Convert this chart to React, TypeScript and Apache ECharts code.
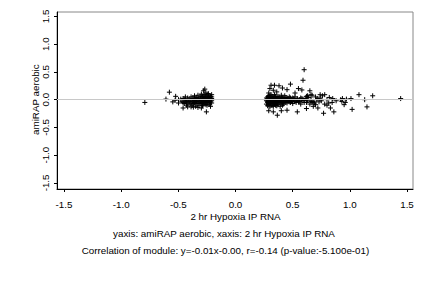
import React, { useEffect, useRef } from "react";
import * as echarts from "echarts";

const xTickValues = [-1.5, -1.0, -0.5, 0.0, 0.5, 1.0, 1.5];
const yTickValues = [-1.5, -1.0, -0.5, 0.0, 0.5, 1.0, 1.5];
const xName = "2 hr Hypoxia IP RNA";
const yName = "amiRAP aerobic";
const subtitle1 = "yaxis: amiRAP aerobic, xaxis: 2 hr Hypoxia IP RNA";
const subtitle2 = "Correlation of module: y=-0.01x-0.00, r=-0.14 (p-value:-5.100e-01)";

// left cluster
const leftCluster: number[][] = [
  [-0.795, -0.05], [-0.61, 0.01], [-0.58, 0.135], [-0.55, -0.04], [-0.525, 0.06], [-0.5, 0.0],
  [-0.53, -0.01], [-0.46, -0.15], [-0.37, -0.135], [-0.30, -0.15], [-0.256, -0.22], [-0.27, 0.19],
  [-0.28, 0.16], [-0.26, 0.12], [-0.24, 0.1],
  [-0.47, -0.03], [-0.46, 0.02], [-0.45, -0.07], [-0.44, 0.0], [-0.43, -0.1], [-0.42, 0.03],
  [-0.41, -0.04], [-0.40, 0.01], [-0.40, -0.08], [-0.39, 0.05], [-0.38, -0.02], [-0.38, -0.1],
  [-0.37, 0.02], [-0.36, -0.05], [-0.36, 0.07], [-0.35, -0.01], [-0.35, -0.12], [-0.34, 0.04],
  [-0.34, -0.07], [-0.33, 0.0], [-0.33, 0.08], [-0.32, -0.04], [-0.32, -0.1], [-0.31, 0.02],
  [-0.31, 0.06], [-0.30, -0.02], [-0.30, -0.07], [-0.30, 0.1], [-0.29, 0.03], [-0.29, -0.05],
  [-0.29, -0.11], [-0.28, 0.0], [-0.28, 0.06], [-0.28, -0.08], [-0.27, -0.03], [-0.27, 0.09],
  [-0.27, 0.03], [-0.26, -0.06], [-0.26, 0.0], [-0.26, 0.05], [-0.25, -0.02], [-0.25, -0.1],
  [-0.25, 0.08], [-0.24, 0.02], [-0.24, -0.05], [-0.24, 0.11], [-0.23, -0.01], [-0.23, 0.04],
  [-0.23, -0.08], [-0.22, 0.0], [-0.22, 0.06], [-0.22, -0.04], [-0.22, -0.12], [-0.21, 0.02],
  [-0.21, -0.06], [-0.21, 0.09], [-0.42, -0.13], [-0.48, 0.01], [-0.5, -0.06], [-0.44, 0.05],
  [-0.39, -0.13], [-0.33, -0.14],
  [-0.46, -0.05], [-0.45, 0.01], [-0.43, -0.02], [-0.42, -0.06], [-0.41, 0.0], [-0.40, -0.03],
  [-0.39, -0.06], [-0.38, 0.02], [-0.37, -0.04], [-0.36, -0.02], [-0.35, 0.02], [-0.34, -0.03],
  [-0.33, -0.06], [-0.32, 0.01], [-0.31, -0.02], [-0.31, -0.06], [-0.30, 0.03], [-0.29, -0.01],
  [-0.28, -0.03], [-0.27, 0.0], [-0.27, -0.06], [-0.26, 0.03], [-0.25, 0.01], [-0.25, -0.05],
  [-0.24, -0.02], [-0.23, 0.01], [-0.23, -0.04], [-0.22, 0.03], [-0.21, -0.02], [-0.21, 0.05],
  [-0.44, -0.04], [-0.37, -0.07], [-0.34, 0.01], [-0.29, 0.06], [-0.26, -0.09], [-0.24, 0.06],
];

// right cluster
const rightCluster: number[][] = [
  [0.60, 0.54], [0.59, 0.35], [0.48, 0.28], [0.31, 0.26], [0.34, 0.26], [0.38, 0.25], [0.41, 0.21],
  [0.65, 0.16], [0.58, 0.175], [0.52, 0.12], [0.30, 0.2], [0.33, 0.17], [0.45, 0.18], [0.55, 0.2],
  [0.36, 0.14], [0.29, 0.12],
  [0.365, -0.28], [0.29, -0.2], [0.54, -0.22], [0.45, -0.19], [0.77, -0.245], [0.86, -0.22],
  [0.83, -0.15], [0.72, -0.15], [1.15, -0.13], [1.02, -0.175], [0.95, -0.09], [0.40, -0.2],
  [0.33, -0.22], [0.62, -0.16], [0.68, -0.12],
  [1.08, 0.09], [1.2, 0.07], [1.445, 0.02], [1.13, 0.0], [1.01, 0.02], [0.935, 0.02], [0.93, -0.03],
  [0.76, 0.07], [0.78, 0.09], [0.74, 0.09], [0.815, -0.06], [0.845, -0.05], [0.96, -0.05],
  [0.66, -0.03], [0.68, -0.03], [0.92, 0.0], [0.97, 0.01], [0.88, -0.02], [0.8, 0.0], [0.7, 0.05],
  [0.72, 0.02], [0.64, 0.04], [0.62, -0.05],
  [0.27, -0.02], [0.27, 0.03], [0.27, -0.08], [0.28, 0.05], [0.28, -0.05], [0.28, 0.0], [0.28, -0.11],
  [0.29, 0.02], [0.29, -0.03], [0.29, 0.07], [0.29, -0.09], [0.30, -0.01], [0.30, 0.04], [0.30, -0.06],
  [0.30, -0.13], [0.31, 0.01], [0.31, -0.04], [0.31, 0.09], [0.31, -0.1], [0.32, -0.02], [0.32, 0.03],
  [0.32, -0.07], [0.32, 0.06], [0.33, 0.0], [0.33, -0.05], [0.33, -0.12], [0.33, 0.04], [0.34, -0.02],
  [0.34, 0.02], [0.34, -0.08], [0.35, 0.0], [0.35, -0.04], [0.35, 0.06], [0.35, -0.1], [0.36, -0.01],
  [0.36, 0.03], [0.36, -0.06], [0.37, 0.01], [0.37, -0.03], [0.37, -0.09], [0.38, 0.0], [0.38, 0.05],
  [0.38, -0.05], [0.39, -0.02], [0.39, 0.02], [0.39, -0.12], [0.40, 0.0], [0.40, -0.06], [0.40, 0.08],
  [0.41, -0.03], [0.41, 0.03], [0.42, -0.01], [0.42, -0.08], [0.43, 0.01], [0.43, -0.04], [0.44, 0.04],
  [0.44, -0.02], [0.45, -0.06], [0.45, 0.0], [0.46, 0.02], [0.46, -0.03], [0.47, -0.01], [0.47, 0.05],
  [0.48, -0.05], [0.48, 0.01], [0.49, -0.02], [0.50, 0.03], [0.50, -0.07], [0.51, 0.0], [0.52, -0.03],
  [0.52, 0.05], [0.53, -0.01], [0.54, 0.02], [0.55, -0.04], [0.56, 0.0], [0.57, 0.03], [0.57, -0.08],
  [0.58, -0.02], [0.59, 0.01], [0.60, -0.05], [0.61, 0.02], [0.62, 0.06], [0.63, 0.07], [0.65, -0.08],
  [0.66, 0.09], [0.67, 0.08], [0.69, -0.06], [0.70, -0.09], [0.71, 0.0], [0.73, -0.04], [0.74, 0.03],
  [0.75, -0.02], [0.78, -0.08], [0.80, -0.1], [0.82, 0.04], [0.85, 0.02],
  [0.27, 0.0], [0.28, -0.03], [0.28, 0.02], [0.29, -0.06], [0.29, 0.0], [0.30, 0.02], [0.30, -0.03],
  [0.31, -0.07], [0.31, -0.01], [0.32, 0.0], [0.32, -0.04], [0.33, 0.02], [0.33, -0.02], [0.34, 0.0],
  [0.34, -0.05], [0.35, 0.03], [0.35, -0.02], [0.36, 0.01], [0.36, -0.04], [0.37, -0.01], [0.37, -0.06],
  [0.38, -0.02], [0.38, 0.02], [0.39, 0.0], [0.39, -0.05], [0.40, -0.02], [0.40, 0.03], [0.41, 0.0],
  [0.41, -0.06], [0.42, 0.02], [0.42, -0.03], [0.43, -0.01], [0.44, 0.0], [0.44, -0.05], [0.45, 0.03],
  [0.46, -0.01], [0.47, -0.04], [0.48, 0.03], [0.49, 0.0], [0.50, -0.03], [0.51, 0.02], [0.53, -0.05],
  [0.54, 0.0], [0.56, -0.03], [0.58, 0.02], [0.60, -0.01], [0.63, -0.02], [0.66, 0.0], [0.67, -0.05],
  [0.30, 0.07], [0.34, 0.09], [0.37, 0.06], [0.43, 0.07], [0.32, -0.1], [0.36, -0.11], [0.41, -0.1],
];

const FONT = "'Liberation Sans', Arial, Helvetica, sans-serif";
const FS = 9.8;
const fmt = (v: number) => (Math.abs(v) < 1e-9 ? "0.0" : v.toFixed(1));

export default function App() {
  const ref = useRef<HTMLDivElement>(null);
  useEffect(() => {
    if (!ref.current) return;
    const chart = echarts.init(ref.current, undefined, { renderer: "svg" });
    const plusSymbol = "path://M0,5L10,5M5,0L5,10";
    chart.setOption({
      animation: false,
      backgroundColor: "#ffffff",
      textStyle: { fontFamily: FONT },
      grid: [
        { left: 57, top: 12, width: 356, height: 177, show: true, borderColor: "#888888", borderWidth: 1, backgroundColor: "transparent" },
        { left: 64, top: 12, width: 343, height: 177 },
        { left: 57, top: 16.4, width: 356, height: 166.5 },
      ],
      xAxis: [
        {
          gridIndex: 0, type: "value", min: -1.564, max: 1.553,
          axisLine: { show: true, onZero: false, lineStyle: { color: "#000", width: 1 } },
          axisTick: { show: false }, axisLabel: { show: false }, splitLine: { show: false },
        },
        {
          gridIndex: 1, type: "value", min: xTickValues[0], max: xTickValues[xTickValues.length - 1], interval: 0.5,
          axisLine: { show: false },
          axisTick: { show: true, length: 3, lineStyle: { color: "#000" } },
          axisLabel: { show: true, margin: 10, fontSize: FS, color: "#000", fontFamily: FONT, formatter: fmt },
          splitLine: { show: false },
          name: xName, nameLocation: "middle", nameGap: 22, nameMoveOverlap: false,
          nameTextStyle: { fontSize: FS, color: "#000", fontFamily: FONT },
        },
        { gridIndex: 2, type: "value", show: false, min: 0, max: 1 },
      ],
      yAxis: [
        {
          gridIndex: 0, type: "value", min: -1.61, max: 1.58,
          axisLine: { show: true, onZero: false, lineStyle: { color: "#000", width: 1 } },
          axisTick: { show: false }, axisLabel: { show: false }, splitLine: { show: false },
        },
        { gridIndex: 1, type: "value", show: false, min: 0, max: 1 },
        {
          gridIndex: 2, type: "value", min: yTickValues[0], max: yTickValues[yTickValues.length - 1], interval: 0.5,
          axisLine: { show: false },
          axisTick: { show: true, length: 3, lineStyle: { color: "#000" } },
          axisLabel: { show: true, rotate: 90, margin: 7, fontSize: FS, color: "#000", fontFamily: FONT, formatter: fmt },
          splitLine: { show: false },
          name: yName, nameLocation: "middle", nameRotate: 90, nameGap: 17, nameMoveOverlap: false,
          nameTextStyle: { fontSize: FS, color: "#000", fontFamily: FONT },
        },
      ],
      graphic: [
        { type: "text", x: 224, y: 233, style: { text: subtitle1, fontSize: FS, fontFamily: FONT, fill: "#000", align: "center", verticalAlign: "middle" } },
        { type: "text", x: 225.5, y: 250.5, style: { text: subtitle2, fontSize: FS, fontFamily: FONT, fill: "#000", align: "center", verticalAlign: "middle" } },
      ],
      series: [
        {
          type: "scatter", xAxisIndex: 0, yAxisIndex: 0,
          data: leftCluster.concat(rightCluster),
          symbol: plusSymbol, symbolSize: 5,
          itemStyle: { color: "none", borderColor: "#000", borderWidth: 1, opacity: 1 },
          markLine: {
            silent: true, symbol: "none", label: { show: false },
            lineStyle: { color: "#c8c8c8", width: 1, type: "solid" },
            data: [{ yAxis: 0 }],
          },
          z: 3,
        },
      ],
    });
    return () => chart.dispose();
  }, []);
  return <div ref={ref} style={{ position: "fixed", left: 0, top: 0, width: 432, height: 288 }} />;
}
